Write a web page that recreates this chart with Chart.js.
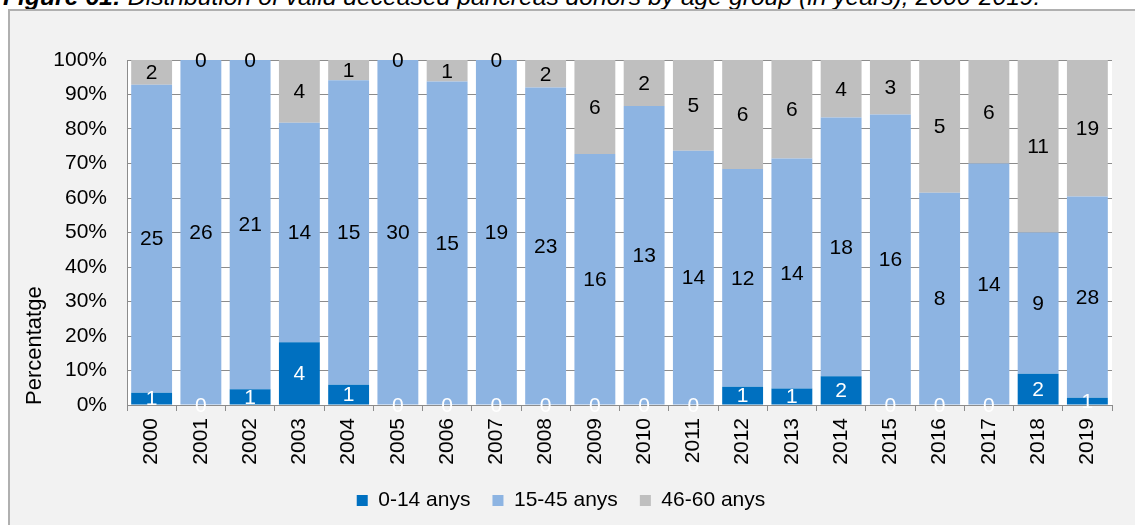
<!DOCTYPE html>
<html>
<head>
<meta charset="utf-8">
<script src="https://cdn.jsdelivr.net/npm/chart.js@4/dist/chart.umd.min.js"></script>
<style>
  body { margin: 0; background: #fff; width: 1135px; height: 525px; overflow: hidden; position: relative; font-family: "Liberation Sans", Arial, sans-serif; }
  #title { position: absolute; left: 3px; top: -15px; font-size: 24.7px; line-height: 24.7px; font-style: italic; white-space: nowrap; color: #000; }
  #frame { position: absolute; left: 8px; top: 9px; width: 1127px; height: 516px; background: #f2f2f2; border-left: 2px solid #b0b0b0; border-top: 2px solid #b0b0b0; box-sizing: border-box; }
  #chartBox { position: absolute; left: 0; top: 0; width: 1125px; height: 514px; }
</style>
</head>
<body>
<div id="title"><b>Figure 61:</b> Distribution of valid deceased pancreas donors by age group (in years), 2000-2019.</div>
<div id="frame">
  <div id="chartBox"><canvas id="donorChart" width="1125" height="514"></canvas></div>
</div>

<script>
/* ================= DATA ================= */
const years = ["2000", "2001", "2002", "2003", "2004", "2005", "2006", "2007", "2008", "2009",
               "2010", "2011", "2012", "2013", "2014", "2015", "2016", "2017", "2018", "2019"];

// donors per age group and year
const age0to14  = [1, 0, 1, 4, 1, 0, 0, 0, 0, 0, 0, 0, 1, 1, 2, 0, 0, 0, 2, 1];
const age15to45 = [25, 26, 21, 14, 15, 30, 15, 19, 23, 16, 13, 14, 12, 14, 18, 16, 8, 14, 9, 28];
const age46to60 = [2, 0, 0, 4, 1, 0, 1, 0, 2, 6, 2, 5, 6, 6, 4, 3, 5, 6, 11, 19];

const groupNames = ["0-14 anys", "15-45 anys", "46-60 anys"];
const yTicks = [0, 10, 20, 30, 40, 50, 60, 70, 80, 90, 100];

/* ================= HELPERS ================= */
const FONT = "'Liberation Sans', Arial, sans-serif";

function yearTotals() {
  return years.map((y, i) => age0to14[i] + age15to45[i] + age46to60[i]);
}

function toPercent(counts) {
  const totals = yearTotals();
  return counts.map((c, i) => totals[i] ? (c / totals[i]) * 100 : 0);
}

// writes the raw donor count in the middle of each stacked segment
const countLabels = {
  id: "countLabels",
  afterDatasetsDraw(chart) {
    const ctx = chart.ctx;
    ctx.save();
    ctx.font = "21px " + FONT;
    ctx.textAlign = "center";
    ctx.textBaseline = "middle";
    chart.data.datasets.forEach((ds, i) => {
      const meta = chart.getDatasetMeta(i);
      meta.data.forEach((bar, j) => {
        const p = bar.getProps(["x", "y", "base"], true);
        ctx.fillStyle = ds.labelColor;
        ctx.fillText(String(ds.counts[j]), p.x, (p.y + p.base) / 2 + 1);
      });
    });
    ctx.restore();
  }
};

// white plot area behind the grid
const plotBackground = {
  id: "plotBackground",
  beforeDraw(chart) {
    const a = chart.chartArea;
    chart.ctx.save();
    chart.ctx.fillStyle = "#ffffff";
    chart.ctx.fillRect(a.left, a.top, a.right - a.left, a.bottom - a.top);
    chart.ctx.restore();
  }
};

/* ================= CHART ================= */
function drawChart() {
  const ctx = document.getElementById("donorChart");

  const seriesCounts = [age0to14, age15to45, age46to60];
  const colors = ["#0070c0", "#8db4e2", "#bfbfbf"];
  const textColors = ["#ffffff", "#000000", "#000000"];

  new Chart(ctx, {
    type: "bar",
    data: {
      labels: years,
      datasets: seriesCounts.map((counts, i) => ({
        label: groupNames[i],
        data: toPercent(counts),
        counts: counts,
        labelColor: textColors[i],
        backgroundColor: colors[i],
        borderWidth: 0,
        barPercentage: 0.83,
        categoryPercentage: 1.0
      }))
    },
    options: {
      responsive: false,
      animation: false,
      layout: { padding: { top: 49, right: 23, left: 0, bottom: 4 } },
      plugins: {
        tooltip: { enabled: false },
        legend: {
          position: "bottom",
          labels: {
            boxWidth: 11,
            boxHeight: 11,
            padding: 22,
            color: "#000",
            font: { size: 21, family: FONT }
          }
        }
      },
      scales: {
        x: {
          stacked: true,
          grid: { drawOnChartArea: false, drawTicks: true, tickLength: 6, color: "#8c8c8c" },
          border: { display: true, color: "#8c8c8c" },
          ticks: {
            minRotation: 90,
            maxRotation: 90,
            padding: 7,
            color: "#000",
            font: { size: 21, family: FONT }
          },
          afterFit(scale) { scale.height = 63; }
        },
        y: {
          stacked: true,
          min: 0,
          max: 100,
          afterBuildTicks(scale) { scale.ticks = yTicks.map(v => ({ value: v })); },
          grid: { color: "#8c8c8c", drawTicks: false },
          border: { display: true, color: "#8c8c8c" },
          ticks: {
            padding: 20,
            color: "#000",
            font: { size: 21, family: FONT },
            callback: v => v + "%"
          },
          title: {
            display: true,
            text: "Percentatge",
            align: "start",
            color: "#000",
            font: { size: 22, family: FONT },
            padding: { top: 12, bottom: 0 }
          },
          afterFit(scale) { scale.width = 117; }
        }
      }
    },
    plugins: [plotBackground, countLabels]
  });
}

/* ================= INIT ================= */
document.addEventListener("DOMContentLoaded", drawChart);
</script>
</body>
</html>
